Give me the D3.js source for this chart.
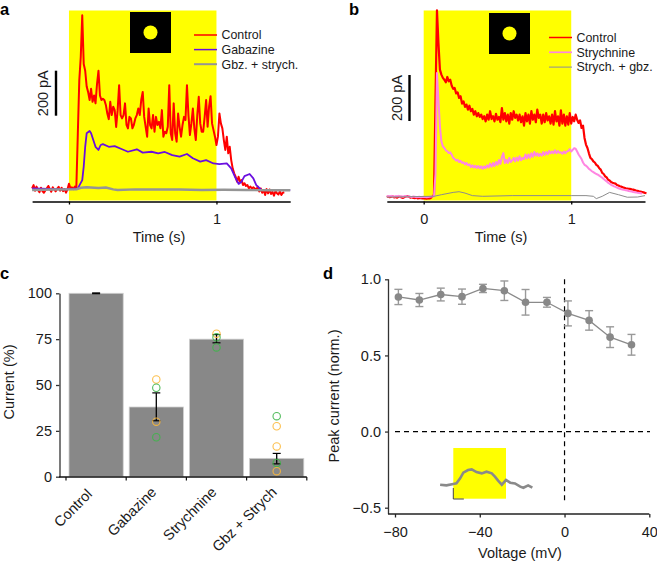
<!DOCTYPE html>
<html><head><meta charset="utf-8">
<script src="https://cdnjs.cloudflare.com/ajax/libs/d3/7.8.5/d3.min.js"></script>
<style>html,body{margin:0;padding:0;background:#fff}svg{display:block}text{font-family:"Liberation Sans",Arial,sans-serif;fill:#1a1a1a}</style>
</head><body><svg id="c" width="657" height="562"></svg>
<script>
// sampled traces: one value (pA) every 10 ms starting at -0.25 s
const sampleStart=-0.25, sampleStep=0.01;
const aControl=[7,22,-3,15,0,-10,10,-5,-12,-2,8,18,5,-8,12,2,-6,6,14,-3,10,-5,4,-12,3,28,8,12,4,15,
12,250,488,592,777,560,530,460,435,400,450,392,420,385,470,530,420,400,405,400,378,340,315,392,333,370,355,280,355,466,333,318,333,385,290,274,325,318,274,290,318,333,362,333,400,436,325,281,237,362,289,274,333,259,325,289,303,274,355,237,259,252,281,466,252,222,385,252,215,340,281,237,289,325,311,466,333,244,296,362,274,222,333,414,296,259,259,325,400,281,370,417,296,266,237,200,237,340,296,274,222,178,237,163,192,133,96,74,59,37,59,37,44,22,30,18,22,7,15,7,12,7,0,15,-7,7,-12,0,-22,4,-15,2,-18,-8,-25,-5,-14,-20,-6,-22,-12,-10];
const bControl=[0,2,-1,1,3,-2,0,-3,2,1,-2,-4,0,2,4,1,-3,-1,-4,-5,-3,-6,-5,-4,-6,-5,-6,-7,-5,-6,-3,
3,10,423,812,670,554,532,518,510,499,522,503,510,484,470,474,450,455,431,438,406,416,392,402,380,397,373,383,358,373,351,365,348,358,339,351,329,358,336,373,339,351,329,362,336,348,325,387,336,365,329,358,319,365,336,373,344,358,333,358,325,351,310,365,329,358,319,373,336,358,325,380,344,358,319,358,325,365,333,351,319,358,315,373,329,351,310,377,319,358,310,351,315,365,319,348,329,358,336,322,333,300,310,257,228,213,190,170,165,155,150,140,135,125,119,105,100,90,85,75,72,65,62,60,58,52,50,47,45,42,40,38,37,36,35,33,32,30,28,27,25,24,22,20,18,17];
const bStrych=[2,4,3,5,3,2,4,3,5,2,3,1,4,3,2,3,1,0,2,1,-1,0,1,-1,0,1,0,-1,0,1,2,
2,3,100,539,423,307,242,220,213,203,199,191,194,184,170,165,158,162,152,157,148,151,142,148,138,142,130,138,128,136,126,135,125,133,123,133,126,138,129,145,132,148,135,152,140,161,144,174,191,148,162,148,170,152,159,170,155,172,158,177,160,170,165,185,168,185,170,190,175,196,180,190,178,188,180,195,183,196,186,200,190,198,190,203,190,200,192,195,188,198,190,198,200,208,198,205,212,210,198,185,175,165,150,140,136,130,122,118,112,108,104,100,97,93,88,84,78,73,68,62,58,53,50,46,44,41,38,36,34,32,31,29,28,26,25,24,22,21,20,18,17,16,15];
// sparse traces: time (s) / current (pA)
const aGabazineT=[-.25,-.02,.06,.09,.10,.11,.12,.14,.15,.165,.18,.20,.215,.23,.27,.31,.36,.40,.46,.50,.56,.605,.65,.70,.75,.80,.84,.89,.93,.98,1.02,1.07,1.10,1.125,1.15,1.17,1.19,1.225,1.25,1.27,1.305,1.5];
const aGabazineV=[7,3,7,44,104,192,252,262,252,222,192,178,200,204,192,195,181,170,181,166,170,163,169,155,148,160,141,126,133,118,115,118,96,59,27,37,62,71,52,22,0,0];
const aGrayT=[-.25,-.1,.05,.08,.12,.2,.25,.3,.33,.45,.6,.75,.9,1.05,1.2,1.35,1.5];
const aGrayV=[0,2,3,10,12,9,11,3,0,3,2,2,0,1,0,-1,-1];
const bGrayT=[-.25,.07,.12,.2,.24,.28,.33,.4,.6,1.0,1.1,1.15,1.17,1.21,1.26,1.32,1.38,1.45,1.5];
const bGrayV=[0,3,10,20,23,17,6,3,6,6,6,3,-7,3,20,10,-1,0,6];
const aLegend=["Control","Gabazine","Gbz. + strych."];
const bLegend=["Control","Strychnine","Strych. + gbz."];
const stimTicks=[0,1];
// panel c
const barNames=["Control","Gabazine","Strychnine","Gbz + Strych"];
const barValues=[100,38,75,10];
const barLow=[99.8,30.5,73,7];
const barHigh=[100.2,45.7,77.5,12.7];
const dotBar=[1,1,1,1,2,2,2,3,3,3,3,3];
const dotValue=[53,48.5,30,21.5,78,76,70.5,33,27.5,16.5,7.5,3];
const dotKind=[0,1,0,1,0,1,1,1,0,0,1,0];
const currentTicks=[0,25,50,75,100];
// panel d
const voltage=[-78.4,-68.5,-58.4,-48.4,-38.5,-28.4,-18.4,-8.3,1.6,11.6,21.5,31.6];
const peak=[.884,.864,.90,.886,.94,.925,.849,.849,.776,.73,.62,.57];
const peakErr=[.05,.043,.042,.05,.027,.064,.084,.032,.082,.064,.068,.068];
const voltTicks=[-80,-40,0,40];
const peakTicks=[-.5,0,.5,1];
const insetT=[-.25,-.13,0,.06,.13,.19,.28,.35,.44,.54,.63,.73,.79,.85,.92,1.0,1.08,1.17,1.27,1.33,1.42,1.5];
const insetV=[0,-12,12,24,115,218,267,279,230,206,236,206,145,73,0,85,36,24,-36,-55,-12,-55];

const svg=d3.select("#c");
const RED="#ff0000",PURPLE="#6a0fe0",GRAY="#959595",PINK="#ff86e2",YELLOW="#ffff00",INK="#1a1a1a";
const FS=14.5;
const times=a=>a.map((_,i)=>sampleStart+i*sampleStep);
const pairs=(t,v)=>t.map((d,i)=>[d,v[i]]);
function label(s,x,y,o={}){const t=svg.append("text").attr("x",x).attr("y",y).text(s).attr("font-size",o.size||FS).attr("text-anchor",o.anchor||"start");
 if(o.weight)t.attr("font-weight",o.weight);if(o.rot!=null)t.attr("transform",`rotate(${o.rot} ${x} ${y})`);return t;}
[["a",0,15],["b",349,15],["c",0,279],["d",323,279]].forEach(d=>label(d[0],d[1],d[2],{size:16.5,weight:"bold"}).style("fill","#000"));

function styleAxis(g,color,w){g.select(".domain").attr("stroke",color).attr("stroke-width",w);g.selectAll(".tick line").attr("stroke",color).attr("stroke-width",w);
 g.selectAll("text").attr("font-family",'"Liberation Sans",Arial,sans-serif').attr("font-size",FS).style("fill",INK);}

function tracePanel(o){
 const x=d3.scaleLinear().domain([-.25,1.5]).range(o.xr);
 const y=d3.scaleLinear().domain([0,200]).range(o.yr);
 svg.append("rect").attr("x",x(0)).attr("y",10.5).attr("width",x(1)-x(0)).attr("height",190).attr("fill",YELLOW);
 svg.append("rect").attr("x",o.sq[0]).attr("y",o.sq[1]).attr("width",41).attr("height",41).attr("fill","#000");
 svg.append("circle").attr("cx",o.sq[0]+20.5).attr("cy",o.sq[1]+20.5).attr("r",7).attr("fill",YELLOW);
 const line=d3.line().x(d=>x(d[0])).y(d=>y(d[1]));
 o.series.forEach(s=>svg.append("path").attr("d",line(s.d)).attr("fill","none").attr("stroke",s.c).attr("stroke-width",s.w).attr("stroke-linejoin","round"));
 const ax=svg.append("g").attr("transform",`translate(0,${o.axisY})`).call(d3.axisBottom(x).tickValues(stimTicks).tickFormat(d3.format("d")).tickSize(3).tickSizeOuter(0).tickPadding(9));
 styleAxis(ax,"#000",1.3);
 label("Time (s)",o.titleX,242,{anchor:"middle"});
 // 200 pA scale bar
 svg.append("line").attr("x1",o.barX).attr("x2",o.barX).attr("y1",o.barTop).attr("y2",o.barTop+(y(0)-y(200))).attr("stroke","#000").attr("stroke-width",2.4);
 label("200 pA",o.barX-8,o.barTop+(y(0)-y(200))/2,{anchor:"middle",rot:-90});
 o.legend.forEach((s,i)=>{const ly=o.legY+i*o.legStep;
  svg.append("line").attr("x1",o.legX).attr("x2",o.legX+23).attr("y1",ly).attr("y2",ly).attr("stroke",o.legC[i]).attr("stroke-width",o.legW[i]);
  label(s,o.legX+27.5,ly+4.3,{size:12.4});});
}
tracePanel({xr:[32.1,290.2],yr:[190,145],sq:[130,12],axisY:201.5,titleX:159,barX:56,barTop:70.7,legX:194,legY:35,legStep:14.6,
 legend:aLegend,legC:[RED,PURPLE,GRAY],legW:[1.5,1.5,2],
 series:[{d:pairs(times(aControl),aControl),c:RED,w:2},{d:pairs(aGabazineT,aGabazineV),c:PURPLE,w:1.8},{d:pairs(aGrayT,aGrayV),c:GRAY,w:2.4}]});
tracePanel({xr:[386.8,645],yr:[197,151],sq:[489,13],axisY:201.5,titleX:501,barX:409.5,barTop:75,legX:549,legY:37.5,legStep:14.8,
 legend:bLegend,legC:[RED,PINK,"#8b8b9b"],legW:[1.5,1.7,1],
 series:[{d:pairs(times(bControl),bControl),c:RED,w:2.2},{d:pairs(times(bStrych),bStrych),c:PINK,w:2},{d:pairs(bGrayT,bGrayV),c:"#8c8c8c",w:1}]});

// panel c
{
 const x=d3.scaleBand().domain(barNames).range([66,306.8]).paddingInner(.1).paddingOuter(.05);
 const y=d3.scaleLinear().domain([0,100]).range([476.7,293.3]);
 svg.selectAll(".bar").data(barNames).enter().append("rect").attr("x",d=>x(d)).attr("width",x.bandwidth()).attr("y",(d,i)=>y(barValues[i])).attr("height",(d,i)=>y(0)-y(barValues[i])).attr("fill","#888").attr("stroke","#cfcfcf").attr("stroke-width",.8);
 const yax=svg.append("g").attr("transform","translate(59.5,0)").call(d3.axisLeft(y).tickValues(currentTicks).tickSize(3.5).tickSizeOuter(0).tickPadding(4));
 styleAxis(yax,"#333",1.3);
 const step=x.step();
 const edges=d3.range(5).map(i=>66+i*step);
 const xb=svg.append("g");
 xb.append("line").attr("x1",59).attr("x2",edges[4]).attr("y1",477).attr("y2",477).attr("stroke","#111").attr("stroke-width",1.3);
 edges.forEach(e=>xb.append("line").attr("x1",e).attr("x2",e).attr("y1",477).attr("y2",480.5).attr("stroke","#111").attr("stroke-width",1.2));
 barNames.forEach((n,i)=>{const cx=x(n)+x.bandwidth()/2;label(n,cx+(i===0?-3:1),i===0?495:493,{anchor:"end",rot:-45});});
 label("Current (%)",14,382,{anchor:"middle",rot:-90});
 barNames.forEach((n,i)=>{const cx=x(n)+x.bandwidth()/2;
  svg.append("line").attr("x1",cx).attr("x2",cx).attr("y1",y(barLow[i])).attr("y2",y(barHigh[i])).attr("stroke","#000").attr("stroke-width",1.3);
  [barLow[i],barHigh[i]].forEach(v=>svg.append("line").attr("x1",cx-4).attr("x2",cx+4).attr("y1",y(v)).attr("y2",y(v)).attr("stroke","#000").attr("stroke-width",1.2));});
 svg.selectAll(".dot").data(dotValue).enter().append("circle").attr("cx",(d,i)=>x(barNames[dotBar[i]])+x.bandwidth()/2).attr("cy",d=>y(d)).attr("r",3.7).attr("fill","none").attr("stroke-width",1.1).attr("stroke",(d,i)=>dotKind[i]?"#3fb54a":"#fcb838").attr("stroke-opacity",.9);
}

// panel d
{
 const x=d3.scaleLinear().domain([-80,40]).range([395,649.3]);
 const y=d3.scaleLinear().domain([-.5,1]).range([507.7,279.3]);
 const fmtV=d=>d<0?"\u2212"+Math.abs(d):""+d;
 const fmtP=d=>d<0?"\u2212"+d3.format(".1f")(Math.abs(d)):d3.format(".1f")(d);
 const top=y(1),bot=514;
 // inset
 const ix=d3.scaleLinear().domain([0,1]).range([453.3,506]);
 const iy=d3.scaleLinear().domain([0,200]).range([484.7,473.7]);
 svg.append("rect").attr("x",ix(0)).attr("y",448).attr("width",ix(1)-ix(0)).attr("height",50.7).attr("fill",YELLOW);
 svg.append("path").attr("d",d3.line().x(d=>ix(d[0])).y(d=>iy(d[1]))(pairs(insetT,insetV))).attr("fill","none").attr("stroke","#8a8a8a").attr("stroke-width",2.6);
 svg.append("path").attr("d",`M${ix(0)},488V499H${ix(.2)}`).attr("fill","none").attr("stroke","#444").attr("stroke-width",1);
 // dashed guides
 svg.append("line").attr("x1",x(-80)).attr("x2",650).attr("y1",y(0)).attr("y2",y(0)).attr("stroke","#000").attr("stroke-width",1.2).attr("stroke-dasharray","5,4");
 svg.append("line").attr("x1",x(0)).attr("x2",x(0)).attr("y1",top).attr("y2",503).attr("stroke","#000").attr("stroke-width",1.2).attr("stroke-dasharray","5,4");
 // axes
 const yax=svg.append("g").attr("transform","translate(388.5,0)").call(d3.axisLeft(y).tickValues(peakTicks).tickFormat(fmtP).tickSize(3.5).tickSizeOuter(0).tickPadding(4));
 styleAxis(yax,"#333",1.3);
 yax.select(".domain").attr("d",`M0,${top}V${bot}`);
 const xax=svg.append("g").attr("transform",`translate(0,${bot})`).call(d3.axisBottom(x).tickValues(voltTicks).tickFormat(fmtV).tickSize(3.5).tickSizeOuter(0).tickPadding(9));
 styleAxis(xax,"#222",1.3);
 xax.select(".domain").attr("d",`M388,0H${x(40)}`);
 label("Voltage (mV)",520,558,{anchor:"middle"});
 label("Peak current (norm.)",339,396,{anchor:"middle",rot:-90});
 // data
 svg.append("path").attr("d",d3.line().x((d,i)=>x(voltage[i])).y(d=>y(d))(peak)).attr("fill","none").attr("stroke","#8a8a8a").attr("stroke-width",1.3);
 voltage.forEach((v,i)=>{const cx=x(v),lo=y(peak[i]-peakErr[i]),hi=y(peak[i]+peakErr[i]);
  svg.append("line").attr("x1",cx).attr("x2",cx).attr("y1",lo).attr("y2",hi).attr("stroke","#999").attr("stroke-width",1.4);
  [lo,hi].forEach(e=>svg.append("line").attr("x1",cx-4).attr("x2",cx+4).attr("y1",e).attr("y2",e).attr("stroke","#999").attr("stroke-width",1.4));
  svg.append("circle").attr("cx",cx).attr("cy",y(peak[i])).attr("r",3.8).attr("fill","#888");});
}
</script></body></html>
